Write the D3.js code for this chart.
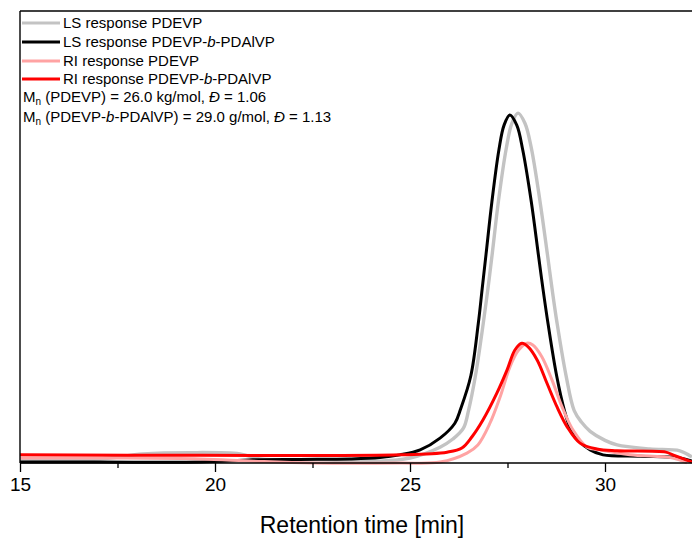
<!DOCTYPE html>
<html>
<head>
<meta charset="utf-8">
<script src="https://cdn.jsdelivr.net/npm/d3@7/dist/d3.min.js"></script>
<style>
  html, body { margin: 0; padding: 0; background: #fff; }
  svg { display: block; font-family: Arial, "Liberation Sans", sans-serif; }
</style>
</head>
<body>
<svg id="chart" width="692" height="538"></svg>
<script>
// ---- Data (retention time in min, detector response in arbitrary units) ----
const lsPdevpT = [15.00, 17.05, 18.15, 19.36, 20.64, 21.15, 22.69, 24.23, 25.00, 25.77, 26.10, 26.37, 26.50, 26.68, 26.88, 27.00, 27.11, 27.27, 27.47, 27.61, 27.77, 27.95, 28.11, 28.33, 28.52, 28.64, 28.77, 29.00, 29.21, 29.40, 29.62, 30.00, 30.31, 31.15, 31.92, 32.23];
const lsPdevpV = [0.9, 0.9, 2.0, 2.3, 2.0, 0.9, 0.7, 0.4, 1.1, 3.5, 5.3, 7.7, 11.6, 19.4, 31.0, 38.7, 46.4, 58.1, 69.7, 75.1, 77.4, 75.1, 69.7, 58.1, 46.4, 38.7, 31.0, 19.4, 11.6, 9.0, 7.0, 5.0, 4.0, 3.1, 2.7, 1.3];

const lsBlockT = [15.00, 17.05, 19.62, 20.97, 22.18, 23.46, 24.23, 24.74, 25.26, 25.77, 26.15, 26.30, 26.56, 26.75, 26.85, 26.95, 27.10, 27.28, 27.41, 27.56, 27.74, 27.89, 28.11, 28.29, 28.41, 28.54, 28.76, 28.96, 29.11, 29.31, 29.62, 29.95, 30.90, 31.92, 32.23];
const lsBlockV = [0.2, 0.2, 0.2, 0.7, 0.8, 0.9, 1.2, 1.8, 2.9, 5.5, 8.8, 12.0, 19.3, 30.8, 38.5, 46.2, 57.8, 69.3, 74.7, 77.0, 74.7, 69.3, 57.8, 46.2, 38.5, 30.8, 19.3, 11.6, 7.7, 5.1, 2.9, 1.8, 1.5, 1.1, 0.4];

const riPdevpT = [15.00, 17.56, 19.62, 21.00, 22.50, 24.74, 25.77, 26.46, 26.74, 27.05, 27.31, 27.56, 27.77, 28.00, 28.15, 28.38, 28.64, 28.90, 29.18, 29.54, 29.87, 30.64, 31.74, 32.10];
const riPdevpV = [1.1, 1.1, 0.9, 0.4, 0.0, 0.0, 0.2, 2.2, 4.0, 8.8, 14.6, 21.2, 24.8, 26.5, 26.1, 23.5, 18.4, 12.4, 7.3, 3.5, 2.9, 1.8, 1.1, 0.0];

const riBlockT = [15.00, 19.62, 24.74, 25.95, 26.33, 26.59, 26.87, 27.23, 27.49, 27.69, 27.87, 28.03, 28.26, 28.51, 28.77, 29.03, 29.36, 29.79, 30.31, 31.56, 31.74, 32.23];
const riBlockV = [1.8, 1.7, 1.8, 2.4, 3.3, 5.8, 9.5, 15.5, 20.6, 25.0, 26.5, 25.7, 22.8, 17.7, 12.4, 8.0, 4.4, 3.1, 2.7, 2.4, 1.8, 0.2];

const seriesNames = ["LS response PDEVP", "LS response PDEVP-b-PDAlVP", "RI response PDEVP", "RI response PDEVP-b-PDAlVP"];
const seriesColors = ["#c3c3c3", "#000000", "#ffa3a3", "#ff0000"];
const xTicksMajor = [15, 20, 25, 30];
const xTicksMinor = [17.5, 22.5, 27.5, 32.5];
const xLabel = "Retention time [min]";
const noteLines = ["(PDEVP) = 26.0 kg/mol, ", "(PDEVP-b-PDAlVP) = 29.0 g/mol, "];
const noteDispersity = ["1.06", "1.13"];

// ---- Layout ----
const svg = d3.select("#chart");
const pLeft = 20, pTop = 11, pRight = 692, pBottom = 463;
const x = d3.scaleLinear().domain([15, 15 + (pRight - pLeft) / 39]).range([pLeft, pRight]);
const y = d3.scaleLinear().domain([0, 100]).range([pBottom, pTop]);

svg.append("defs").append("clipPath").attr("id", "clip")
  .append("rect").attr("x", pLeft).attr("y", pTop).attr("width", pRight - pLeft).attr("height", pBottom - pTop + 2);

const series = [
  { t: lsPdevpT, v: lsPdevpV },
  { t: lsBlockT, v: lsBlockV },
  { t: riPdevpT, v: riPdevpV },
  { t: riBlockT, v: riBlockV }
];

const line = d3.line().x(d => x(d[0])).y(d => y(d[1])).curve(d3.curveCatmullRom.alpha(0.5));
const plot = svg.append("g").attr("clip-path", "url(#clip)");
series.forEach((s, i) => {
  plot.append("path")
    .datum(s.t.map((t, k) => [t, s.v[k]]))
    .attr("d", line)
    .attr("fill", "none")
    .attr("stroke", seriesColors[i])
    .attr("stroke-width", i === 0 ? 3.4 : 3)
    .attr("stroke-linejoin", "round");
});

// ---- Axes ----
const xAxis = d3.axisBottom(x).tickValues(xTicksMajor).tickSize(9).tickPadding(6).tickFormat(d3.format("d"));
const gx = svg.append("g").attr("transform", `translate(0,${pBottom})`).call(xAxis);
gx.select(".domain").remove();
gx.selectAll(".tick line").attr("stroke", "#000").attr("stroke-width", 1.3);
gx.selectAll(".tick text").attr("font-size", 19).attr("fill", "#000")
  .attr("font-family", "Arial, 'Liberation Sans', sans-serif");

const xMinor = d3.axisBottom(x).tickValues(xTicksMinor).tickSize(5).tickFormat("");
const gm = svg.append("g").attr("transform", `translate(0,${pBottom})`).call(xMinor);
gm.select(".domain").remove();
gm.selectAll(".tick line").attr("stroke", "#000").attr("stroke-width", 1.3);

// frame lines (bottom, left, top)
svg.append("line").attr("x1", pLeft).attr("x2", pRight).attr("y1", pBottom).attr("y2", pBottom)
  .attr("stroke", "#000").attr("stroke-width", 1.4);
svg.append("line").attr("x1", pLeft).attr("x2", pLeft).attr("y1", pTop).attr("y2", pBottom)
  .attr("stroke", "#000").attr("stroke-width", 1.4);
svg.append("line").attr("x1", pLeft).attr("x2", pRight).attr("y1", pTop).attr("y2", pTop)
  .attr("stroke", "#000").attr("stroke-width", 1.4);

svg.append("text").attr("x", 362).attr("y", 533).attr("text-anchor", "middle")
  .attr("font-size", 23).attr("fill", "#000").text(xLabel);

// ---- Legend ----
const legY = [23, 42, 61, 79];
seriesNames.forEach((name, i) => {
  svg.append("line").attr("x1", 22).attr("x2", 60).attr("y1", legY[i]).attr("y2", legY[i])
    .attr("stroke", seriesColors[i]).attr("stroke-width", 3);
  const t = svg.append("text").attr("x", 63).attr("y", legY[i] + 5).attr("font-size", 15).attr("fill", "#000");
  const parts = name.split("-b-");
  if (parts.length === 2) {
    t.append("tspan").text(parts[0] + "-");
    t.append("tspan").attr("font-style", "italic").text("b");
    t.append("tspan").text("-" + parts[1]);
  } else {
    t.text(name);
  }
});

const noteY = [102, 122];
noteLines.forEach((txt, i) => {
  const t = svg.append("text").attr("x", 23).attr("y", noteY[i]).attr("font-size", 15).attr("fill", "#000");
  t.append("tspan").text("M");
  t.append("tspan").attr("font-size", 10).attr("dy", 3).text("n");
  const rest = txt.split("-b-");
  if (rest.length === 2) {
    t.append("tspan").attr("dy", -3).text(" " + rest[0] + "-");
    t.append("tspan").attr("font-style", "italic").text("b");
    t.append("tspan").text("-" + rest[1]);
  } else {
    t.append("tspan").attr("dy", -3).text(" " + txt);
  }
  t.append("tspan").attr("font-style", "italic").text("Đ");
  t.append("tspan").text(" = " + noteDispersity[i]);
});
</script>
</body>
</html>
